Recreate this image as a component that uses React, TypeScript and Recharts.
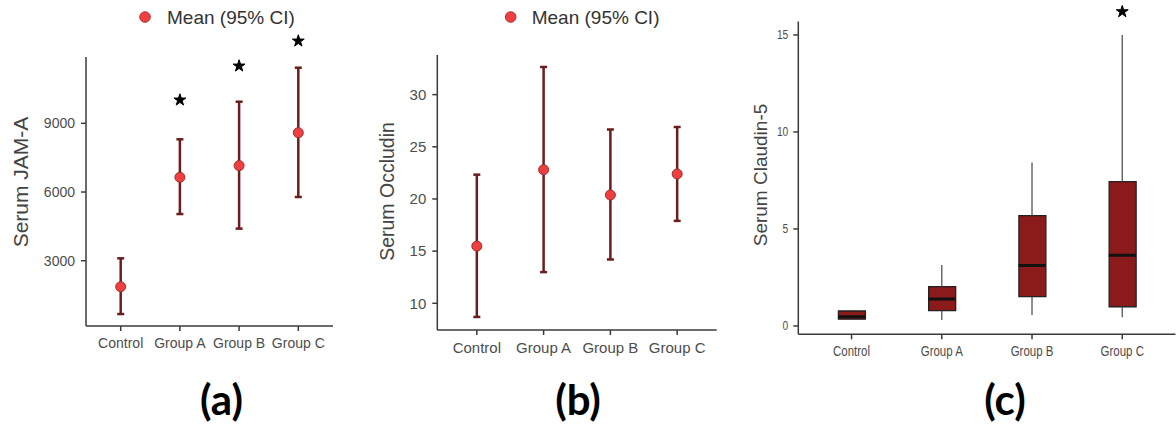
import React from 'react';
import { ComposedChart, Scatter, Bar, XAxis, YAxis, ErrorBar, ReferenceLine, Symbols } from 'recharts';

// categories shared by the three panels
const groups = ['Control', 'Group A', 'Group B', 'Group C'];

// (a) Serum JAM-A, mean with 95% CI
const jamMean = [1865, 6642, 7153, 8590];
const jamLower = [672, 5039, 4402, 5782];
const jamUpper = [3105, 8301, 9943, 11428];
const jamStars = [null, 10018, 11502, 12594];
const jamTicks = [3000, 6000, 9000];

// (b) Serum Occludin, mean with 95% CI
const occMean = [15.48, 22.8, 20.38, 22.4];
const occLower = [8.69, 12.99, 14.2, 17.9];
const occUpper = [22.33, 32.65, 26.66, 26.9];
const occTicks = [10, 15, 20, 25, 30];

// (c) Serum Claudin-5, box plot
const clMin = [0.31, 0.31, 0.57, 0.45];
const clQ1 = [0.35, 0.79, 1.51, 0.99];
const clMedian = [0.48, 1.39, 3.11, 3.64];
const clQ3 = [0.77, 2.03, 5.69, 7.44];
const clMax = [0.8, 3.14, 8.42, 15.0];
const clStars = [null, null, null, 16.2];
const clTicks = [0, 5, 10, 15];

const FONT = "'Liberation Sans', Arial, sans-serif";
const AXIS = '#3a3a3a';
const TICK_TEXT = '#4d4d4d';
const ERR = '#6b1c1c';
const BOX = '#8b1a1a';

const YTitle = ({ text, tx, ty, size }: any) => (
  <text
    x={tx}
    y={ty}
    transform={`rotate(-90 ${tx} ${ty})`}
    textAnchor="middle"
    dominantBaseline="central"
    fill="#444"
    fontSize={size}
    fontFamily={FONT}
  >
    {text}
  </text>
);

// panel (c) was squeezed sideways in the original figure, so its tick text is narrower
const NarrowTick = (p: any) => {
  const label = p.axis === 'x' ? groups[p.payload.value] : p.payload.value;
  return (
    <g transform={`translate(${p.x},${p.y})`}>
      <text
        transform="scale(0.82,1)"
        textAnchor={p.textAnchor}
        dy={p.axis === 'x' ? '0.71em' : '0.355em'}
        fill={TICK_TEXT}
        fontSize={p.fs}
        fontFamily={FONT}
      >
        {label}
      </text>
    </g>
  );
};

const Dot = (p: any) => <circle cx={p.cx} cy={p.cy} r={5} fill="#ee4040" stroke="#a32b2b" strokeWidth={1} />;
const Star = (p: any) => <Symbols cx={p.cx} cy={p.cy} type="star" size={44} fill="#000" stroke="#000" strokeWidth={1} strokeLinejoin="round" />;
const Median = (p: any) => (
  <line x1={p.cx - 13.5} x2={p.cx + 13.5} y1={p.cy} y2={p.cy} stroke="#111" strokeWidth={3} />
);
const Empty = () => <g />;

const starRows = (stars: (number | null)[]) =>
  stars.map((s, i) => ({ x: i, star: s })).filter((r) => r.star != null);

function MeanPanel(props: any) {
  const { left, width, mean, lower, upper, stars, ticks, yDomain, axisTop, xDomain, margin, yWidth, title, titleX, titleY, titleSize, tickSize } = props;
  const rows = groups.map((g, i) => ({ x: i, mean: mean[i], err: [mean[i] - lower[i], upper[i] - mean[i]] }));
  return (
    <div style={{ position: 'absolute', left, top: 0 }}>
      <ComposedChart width={width} height={425} margin={margin}>
        <XAxis
          type="number"
          dataKey="x"
          domain={xDomain}
          allowDataOverflow
          ticks={[0, 1, 2, 3]}
          interval={0}
          tickFormatter={(v) => groups[v]}
          height={30}
          tickSize={5}
          tickMargin={7}
          axisLine={{ stroke: AXIS, strokeWidth: 1.5 }}
          tickLine={{ stroke: AXIS, strokeWidth: 1.5 }}
          tick={{ fill: TICK_TEXT, fontSize: tickSize, fontFamily: FONT }}
        />
        <YAxis
          type="number"
          domain={yDomain}
          allowDataOverflow
          ticks={ticks}
          interval={0}
          width={yWidth}
          tickSize={5}
          tickMargin={6}
          axisLine={false}
          tickLine={{ stroke: AXIS, strokeWidth: 1.5 }}
          tick={{ fill: TICK_TEXT, fontSize: tickSize, fontFamily: FONT }}
          label={<YTitle text={title} tx={titleX} ty={titleY} size={titleSize} />}
        />
        <ReferenceLine
          segment={[{ x: xDomain[0], y: yDomain[0] }, { x: xDomain[0], y: axisTop }]}
          stroke={AXIS}
          strokeWidth={1.5}
          ifOverflow="visible"
        />
        <Scatter data={rows} dataKey="mean" shape={Dot} isAnimationActive={false}>
          <ErrorBar dataKey="err" direction="y" width={3.5} stroke={ERR} strokeWidth={2.5} />
        </Scatter>
        {stars && <Scatter data={starRows(stars)} dataKey="star" shape={Star} isAnimationActive={false} />}
      </ComposedChart>
    </div>
  );
}

function BoxPanel() {
  const xDomain = [-0.59, 3.59];
  const yDomain = [-0.43, 16.6];
  const boxes = groups.map((g, i) => ({ x: i, q1: clQ1[i], q3: clQ3[i] }));
  const medians = groups.map((g, i) => ({ x: i, med: clMedian[i] }));
  const upperW = groups.map((g, i) => ({ x: i, q3: clQ3[i], w: [0, clMax[i] - clQ3[i]] }));
  const lowerW = groups.map((g, i) => ({ x: i, q1: clQ1[i], w: [clQ1[i] - clMin[i], 0] }));
  return (
    <div style={{ position: 'absolute', left: 740, top: 0 }}>
      <ComposedChart width={436} height={425} data={boxes} margin={{ top: 3.9, right: 0.5, bottom: 60.7, left: 0 }}>
        <XAxis
          type="number"
          dataKey="x"
          domain={xDomain}
          allowDataOverflow
          ticks={[0, 1, 2, 3]}
          interval={0}
          height={30}
          tickSize={5}
          tickMargin={7}
          axisLine={{ stroke: AXIS, strokeWidth: 1.5 }}
          tickLine={{ stroke: AXIS, strokeWidth: 1.5 }}
          tick={<NarrowTick axis="x" fs={14} />}
        />
        <YAxis
          type="number"
          domain={yDomain}
          allowDataOverflow
          ticks={clTicks}
          interval={0}
          width={58.3}
          tickSize={5}
          tickMargin={5}
          axisLine={false}
          tickLine={{ stroke: AXIS, strokeWidth: 1.5 }}
          tick={<NarrowTick axis="y" fs={12.5} />}
          label={<YTitle text="Serum Claudin-5" tx={20} ty={175} size={19} />}
        />
        <ReferenceLine
          segment={[{ x: xDomain[0], y: yDomain[0] }, { x: xDomain[0], y: 15.69 }]}
          stroke={AXIS}
          strokeWidth={1.5}
          ifOverflow="visible"
        />
        <Scatter data={upperW} dataKey="q3" shape={Empty} isAnimationActive={false}>
          <ErrorBar dataKey="w" direction="y" width={0} stroke="#555" strokeWidth={1.3} />
        </Scatter>
        <Scatter data={lowerW} dataKey="q1" shape={Empty} isAnimationActive={false}>
          <ErrorBar dataKey="w" direction="y" width={0} stroke="#555" strokeWidth={1.3} />
        </Scatter>
        <Bar dataKey={(d: any) => [d.q1, d.q3]} barSize={27} fill={BOX} stroke="#222" strokeWidth={1.3} isAnimationActive={false} />
        <Scatter data={medians} dataKey="med" shape={Median} isAnimationActive={false} />
        <Scatter data={starRows(clStars)} dataKey="star" shape={Star} isAnimationActive={false} />
      </ComposedChart>
    </div>
  );
}

export default function App() {
  return (
    <div style={{ position: 'absolute', left: 0, top: 0, width: 1176, height: 425, background: '#fff', overflow: 'hidden' }}>
      <MeanPanel
        left={0}
        width={360}
        mean={jamMean}
        lower={jamLower}
        upper={jamUpper}
        stars={jamStars}
        ticks={jamTicks}
        yDomain={[150, 13000]}
        axisTop={11895}
        xDomain={[-0.586, 3.586]}
        margin={{ top: 31.7, right: 27, bottom: 69, left: 0 }}
        yWidth={86}
        title="Serum JAM-A"
        titleX={20}
        titleY={182}
        titleSize={21}
        tickSize={14}
      />
      <MeanPanel
        left={360}
        width={380}
        mean={occMean}
        lower={occLower}
        upper={occUpper}
        ticks={occTicks}
        yDomain={[7.44, 33.8]}
        axisTop={33.8}
        xDomain={[-0.592, 3.592]}
        margin={{ top: 55, right: 23.3, bottom: 65, left: 0 }}
        yWidth={77.3}
        title="Serum Occludin"
        titleX={26.7}
        titleY={191.5}
        titleSize={19.5}
        tickSize={15}
      />
      <BoxPanel />
      <svg width={1176} height={425} style={{ position: 'absolute', left: 0, top: 0, pointerEvents: 'none' }}>
        <g fontFamily={FONT} fontSize={19} fill="#333">
          <circle cx={145} cy={17} r={5.3} fill="#ee4040" stroke="#b83232" strokeWidth={1} />
          <text x={167} y={24}>Mean (95% CI)</text>
          <circle cx={510.7} cy={17} r={5.3} fill="#ee4040" stroke="#b83232" strokeWidth={1} />
          <text x={531.7} y={24}>Mean (95% CI)</text>
        </g>
        <g fontFamily="Lato, 'Open Sans', sans-serif" fontWeight={700} fontSize={42} fill="#000" textAnchor="middle">
          <text x={221.5} y={415}>(a)</text>
          <text x={578} y={415}>(b)</text>
          <text x={1005} y={415}>(c)</text>
        </g>
      </svg>
    </div>
  );
}
